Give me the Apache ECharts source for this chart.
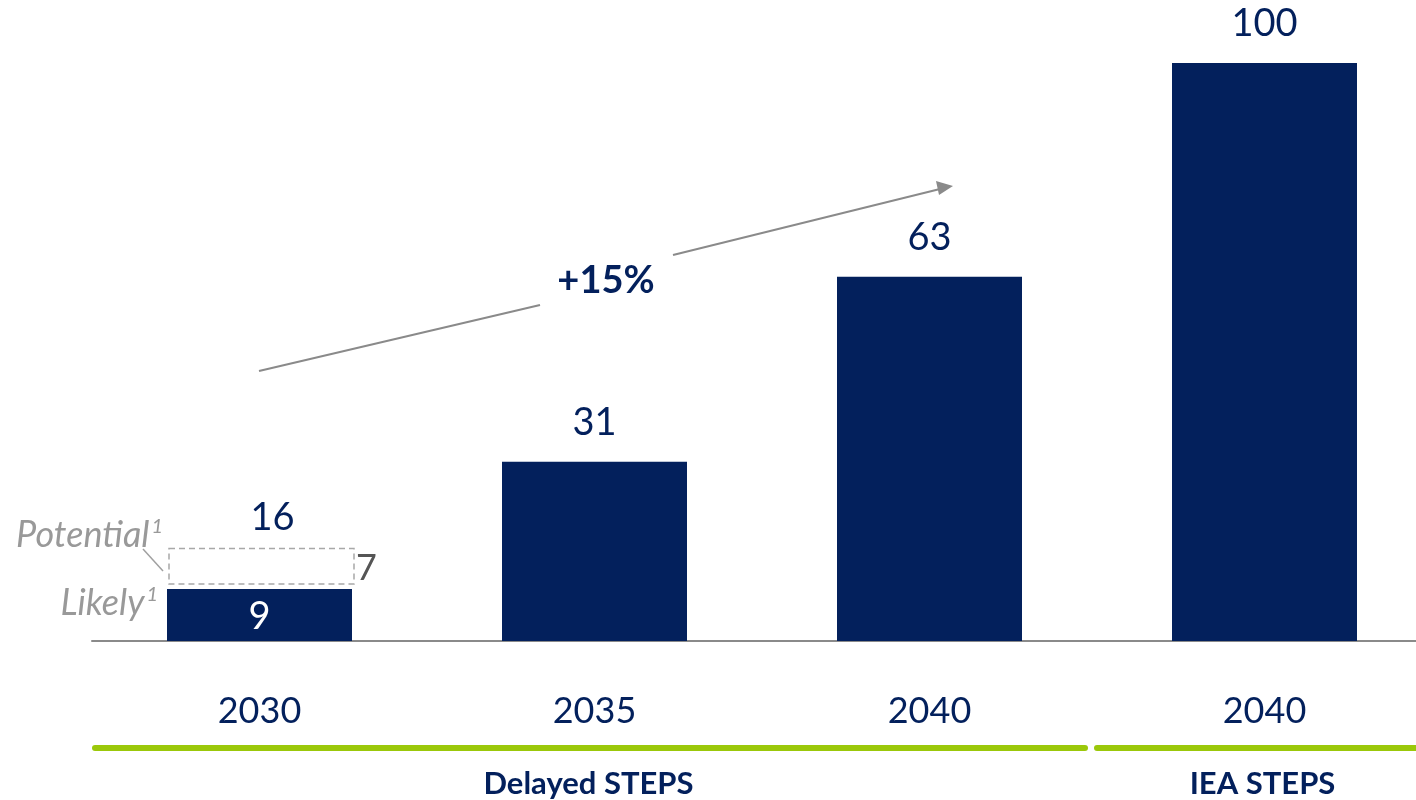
<!DOCTYPE html>
<html>
<head>
<meta charset="utf-8">
<script src="https://cdn.jsdelivr.net/npm/echarts@6/dist/echarts.min.js"></script>
<style>
html,body{margin:0;padding:0;background:#fff;overflow:hidden;width:1416px;height:800px;}
#chart{width:1432px;height:800px;}
</style>
</head>
<body>
<div id="chart"></div>
<script>
// ---- data ----
const categories = ['2030', '2035', '2040', '2040 IEA'];
const tickLabels = ['2030', '2035', '2040', '2040'];
const barValues = [9, 31, 63, 100];          // likely / total values
const potentialValues = [7, null, null, null]; // potential add-on (dashed)
const groupNames = ['Delayed STEPS', 'IEA STEPS'];
const groupRanges = [[0, 2], [3, 3]];
const growthLabel = '+15%';
const potentialLabel = 'Potential';
const likelyLabel = 'Likely';

const NAVY = '#03205c';
const GREEN = '#9bc80a';
const FONT = 'Lato, Roboto, sans-serif';

const chart = echarts.init(document.getElementById('chart'));

const barData = barValues.map((v, i) => {
  const hasPotential = potentialValues[i] != null;
  return {
    value: v,
    label: hasPotential
      ? { show: true, position: 'inside', color: '#fff', fontSize: 38, fontFamily: FONT, offset: [0, 2] }
      : { show: true, position: 'top', distance: 20, color: NAVY, fontSize: 38, fontFamily: FONT }
  };
});

const potentialData = [];
potentialValues.forEach((v, i) => { if (v != null) potentialData.push([i, barValues[i], v]); });

const option = {
  animation: false,
  backgroundColor: '#fff',
  grid: { left: 92, right: 0, top: 63, bottom: 159, containLabel: false },
  xAxis: {
    type: 'category',
    data: categories,
    axisLine: { show: true, lineStyle: { color: '#8a8a8a', width: 2 } },
    axisTick: { show: false },
    axisLabel: {
      margin: 52, fontSize: 36, color: NAVY, fontFamily: FONT,
      formatter: (val, idx) => tickLabels[idx]
    }
  },
  yAxis: {
    type: 'value', min: 0, max: 100,
    show: false, splitLine: { show: false }
  },
  series: [
    {
      type: 'bar',
      data: barData,
      barWidth: 185,
      itemStyle: { color: NAVY },
      z: 2
    },
    {
      type: 'custom',
      data: potentialData,
      z: 3,
      renderItem: function (params, api) {
        const idx = api.value(0), base = api.value(1), v = api.value(2);
        const p0 = api.coord([idx, base]);
        const p1 = api.coord([idx, base + v]);
        const w = 185;
        const x = p0[0] - w / 2 + 2;
        const yTop = p1[1];
        const h = p0[1] - p1[1] - 5;
        return {
          type: 'group',
          children: [
            {
              type: 'rect',
              shape: { x: x, y: yTop, width: w, height: h },
              style: { fill: 'none', stroke: '#a8a8a8', lineWidth: 1.5, lineDash: [6, 4] }
            },
            {
              type: 'text',
              style: {
                text: String(v), x: x + w + 2, y: yTop + h / 2 + 2,
                align: 'left', verticalAlign: 'middle',
                fontSize: 36, fontFamily: FONT, fill: '#555'
              }
            },
            {
              type: 'text',
              style: {
                text: String(base + v), x: p0[0] + 13, y: yTop - 12,
                align: 'center', verticalAlign: 'bottom',
                fontSize: 38, fontFamily: FONT, fill: NAVY
              }
            }
          ]
        };
      }
    }
  ]
};

chart.setOption(option);

// ---- annotations (graphic layer) ----
function px(i) { return chart.convertToPixel({ xAxisIndex: 0 }, i); }
const band = px(1) - px(0);
const graphics = [];

// group lines and labels
groupRanges.forEach((r, gi) => {
  const left = px(r[0]) - band / 2;
  const right = px(r[1]) + band / 2;
  const x1 = gi === 0 ? left + 3 : left;
  const x2 = gi === 0 ? right - 12 : right;
  graphics.push({
    type: 'line', shape: { x1: x1, y1: 748, x2: x2, y2: 748 },
    style: { stroke: GREEN, lineWidth: 6, lineCap: 'round' }
  });
  const cx = gi === 0 ? (px(r[0]) + px(r[1])) / 2 - 6 : px(r[0]) - 2;
  graphics.push({
    type: 'text',
    style: {
      text: groupNames[gi], x: cx, y: 784, align: 'center', verticalAlign: 'middle',
      fontSize: 31, fontWeight: 'bold', fontFamily: FONT, fill: NAVY
    }
  });
});

// growth arrow
graphics.push({
  type: 'line', shape: { x1: 259, y1: 371, x2: 540, y2: 305 },
  style: { stroke: '#8a8a8a', lineWidth: 2 }
});
graphics.push({
  type: 'line', shape: { x1: 673, y1: 255, x2: 940, y2: 189 },
  style: { stroke: '#8a8a8a', lineWidth: 2 }
});
graphics.push({
  type: 'polygon', shape: { points: [[953, 186], [936, 181], [939, 195]] },
  style: { fill: '#8a8a8a' }
});
graphics.push({
  type: 'text',
  style: {
    text: growthLabel, x: 606, y: 281, align: 'center', verticalAlign: 'middle',
    fontSize: 38, fontWeight: 'bold', fontFamily: FONT, fill: NAVY
  }
});

// potential / likely labels
const richSup = {
  a: { fontSize: 36, fontStyle: 'italic', fontFamily: FONT, fill: '#999999' },
  s: { fontSize: 20, fontStyle: 'italic', fontFamily: FONT, fill: '#999999', verticalAlign: 'top', padding: [0, 0, 14, 2] }
};
graphics.push({
  type: 'text',
  style: { text: '{a|' + potentialLabel + '}{s|1}', rich: richSup, x: 163, y: 535, align: 'right', verticalAlign: 'middle' }
});
graphics.push({
  type: 'text',
  style: { text: '{a|' + likelyLabel + '}{s|1}', rich: richSup, x: 158, y: 603, align: 'right', verticalAlign: 'middle' }
});
graphics.push({
  type: 'line', shape: { x1: 143, y1: 549, x2: 163, y2: 571 },
  style: { stroke: '#a0a0a0', lineWidth: 1.5 }
});

chart.setOption({ graphic: graphics });
</script>
</body>
</html>
